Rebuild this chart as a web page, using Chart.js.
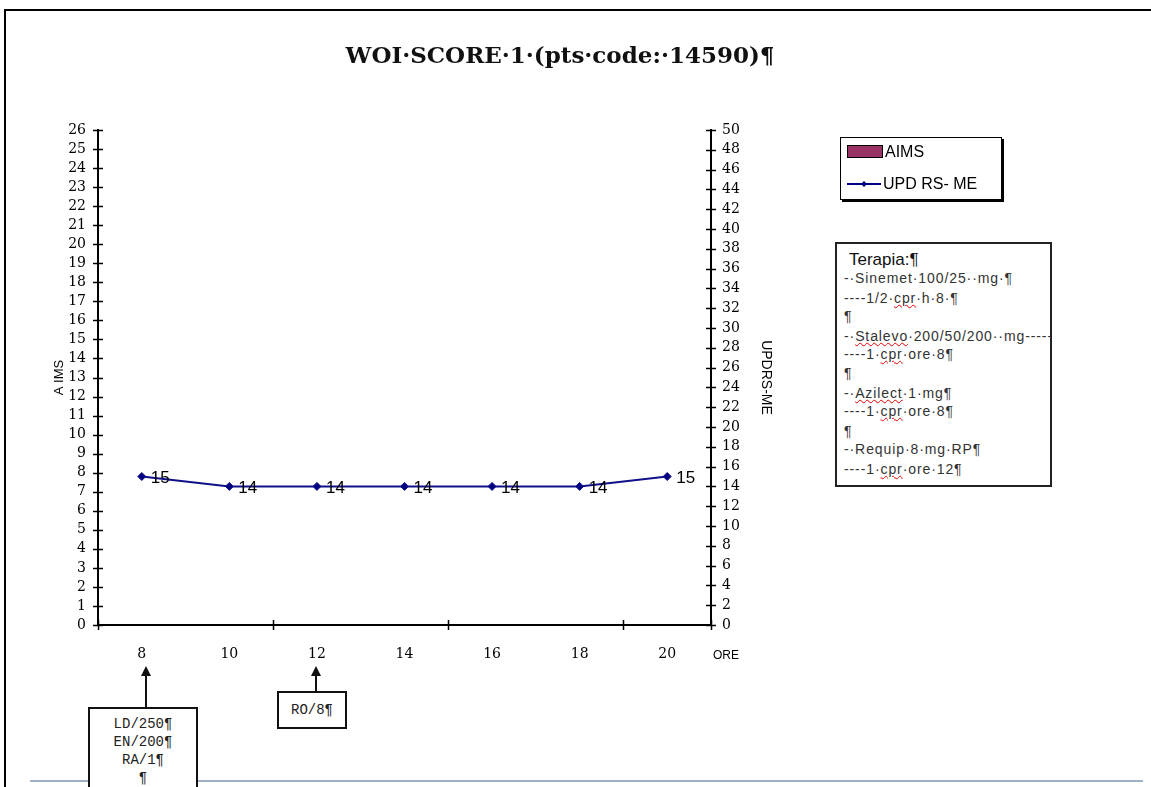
<!DOCTYPE html>
<html>
<head>
<meta charset="utf-8">
<title>WOI SCORE 1</title>
<script src="https://cdn.jsdelivr.net/npm/chart.js@4.4.1/dist/chart.umd.min.js"></script>
<style>
  body { margin: 0; background: #fff; }
  #wrap { position: relative; width: 1151px; height: 787px; overflow: hidden; }
  #wrap canvas { position: absolute; left: 0; top: 0; }
  .abs { position: absolute; }
  #title { left: 0; width: 1120px; top: 41px; text-align: center; font: bold 23px "DejaVu Serif", serif; color: #111; }
  .frame { position: absolute; background: #000; }
  #legend { left: 840px; top: 137px; width: 160px; height: 61px; border: 1px solid #000; box-shadow: 2px 2px 0 #000; background: #fff;
            font: 16px "Liberation Sans", Arial, sans-serif; color: #000; }
  #legend .row { position: absolute; left: 6px; height: 20px; line-height: 20px; }
  #legend .sw { display: inline-block; width: 34px; height: 11px; border: 1px solid #000; vertical-align: -1px; margin-right: 2px; }
  #terapia { left: 835px; top: 242px; width: 213px; height: 241px; border: 2px solid #222; background: #fff; overflow: hidden;
             font: 14px "Liberation Sans", Arial, sans-serif; color: #333; letter-spacing: 0.9px; }
  #terapia div { position: absolute; left: 7px; white-space: nowrap; line-height: 19px; }
  #terapia .h { font-size: 17px; color: #111; left: 12px; letter-spacing: 0; }
  .sq { text-decoration: underline wavy #e00; text-decoration-thickness: 1px; }
  .box { position: absolute; border: 2px solid #111; background: #fff; font: 14px "Liberation Mono", monospace; color: #222; text-align: center; }
  .arrow { position: absolute; width: 2px; background: #111; }
  .head { position: absolute; width: 0; height: 0; border-left: 5px solid transparent; border-right: 5px solid transparent; border-bottom: 10px solid #111; }
  #ore { left: 713px; top: 648px; font: 12px "Liberation Sans", Arial, sans-serif; color: #000; }
</style>
</head>
<body>
<div id="wrap">
  <canvas id="myChart" width="1151" height="787"></canvas>
  <div class="frame" style="left:4px;top:9px;width:2px;height:778px;"></div>
  <div class="frame" style="left:4px;top:9px;width:1147px;height:2px;"></div>
  <div class="frame" style="left:30px;top:780px;width:1113px;height:2px;background:#9fb0c8;"></div>

  <div id="title" class="abs">WOI·SCORE·1·(pts·code:·14590)¶</div>

  <div id="legend" class="abs">
    <div class="row" style="top:4px;"><span class="sw" style="background:#993366;"></span><span id="lg1"></span></div>
    <div class="row" style="top:36px;">
      <svg width="36" height="12" style="vertical-align:-1px;"><line x1="0" y1="6" x2="34" y2="6" stroke="#000080" stroke-width="2"/><polygon points="17,3 20,6 17,9 14,6" fill="#000080"/></svg><span id="lg2"></span>
    </div>
  </div>

  <div id="terapia" class="abs">
    <div class="h" style="top:6px;">Terapia:¶</div>
    <div style="top:25px;">-·Sinemet·100/25··mg·¶</div>
    <div style="top:45px;">----1/2·<span class="sq">cpr</span>·h·8·¶</div>
    <div style="top:63px;">¶</div>
    <div style="top:83px;">-·<span class="sq">Stalevo</span>·200/50/200··mg-----</div>
    <div style="top:101px;">----1·<span class="sq">cpr</span>·ore·8¶</div>
    <div style="top:120px;">¶</div>
    <div style="top:140px;">-·<span class="sq">Azilect</span>·1·mg¶</div>
    <div style="top:158px;">----1·<span class="sq">cpr</span>·ore·8¶</div>
    <div style="top:178px;">¶</div>
    <div style="top:196px;">-·Requip·8·mg·RP¶</div>
    <div style="top:216px;">----1·<span class="sq">cpr</span>·ore·12¶</div>
  </div>

  <div id="ore" class="abs">ORE</div>

  <!-- annotation at 8 -->
  <div class="head" style="left:141px;top:666px;"></div>
  <div class="arrow" style="left:145px;top:674px;height:34px;"></div>
  <div class="box" style="left:88px;top:707px;width:106px;height:100px;line-height:18px;padding-top:6px;">LD/250¶<br>EN/200¶<br>RA/1¶<br>¶</div>
  <!-- annotation at 12 -->
  <div class="head" style="left:311px;top:666px;"></div>
  <div class="arrow" style="left:315px;top:674px;height:18px;"></div>
  <div class="box" style="left:277px;top:691px;width:66px;height:34px;line-height:34px;">RO/8¶</div>
</div>

<script>
// chart data
const hours = ['8', '10', '12', '14', '16', '18', '20'];
const aimsName = 'AIMS';
const updrsName = 'UPD RS- ME';
const aimsValues = [null, null, null, null, null, null, null];
const updrsValues = [15, 14, 14, 14, 14, 14, 15];
const aimsMax = 26;
const updrsMax = 50;

document.getElementById('lg1').textContent = aimsName;
document.getElementById('lg2').textContent = updrsName;

// ticks crossing the axis lines, like the old excel charts
const crossTicks = {
	id: 'crossTicks',
	afterDraw(chart) {
		const ctx = chart.ctx;
		const area = chart.chartArea;
		const y = chart.scales.y, y1 = chart.scales.y1, x = chart.scales.x;
		ctx.save();
		ctx.strokeStyle = '#000';
		ctx.lineWidth = 1.5;
		ctx.beginPath();
		for (let v = 0; v <= aimsMax; v++) {
			const p = Math.round(y.getPixelForValue(v)) + 0.5;
			ctx.moveTo(area.left - 5, p); ctx.lineTo(area.left + 5, p);
		}
		for (let v = 0; v <= updrsMax; v += 2) {
			const p = Math.round(y1.getPixelForValue(v)) + 0.5;
			ctx.moveTo(area.right - 5, p); ctx.lineTo(area.right + 5, p);
		}
		for (let i = -0.5; i <= hours.length - 0.5; i += 2) {
			const p = Math.round(x.getPixelForValue(i)) + 0.5;
			ctx.moveTo(p, area.bottom - 5); ctx.lineTo(p, area.bottom + 5);
		}
		ctx.moveTo(area.right + 0.5, area.bottom - 5); ctx.lineTo(area.right + 0.5, area.bottom + 5);
		ctx.stroke();

		// value labels next to the points
		const meta = chart.getDatasetMeta(1);
		ctx.fillStyle = '#000';
		ctx.font = '17px "Liberation Sans", Arial, sans-serif';
		ctx.textBaseline = 'middle';
		meta.data.forEach(function(pt, i) {
			ctx.fillText(String(updrsValues[i]), pt.x + 9, pt.y + 2);
		});
		ctx.restore();
	}
};

var tickFont = { family: '"DejaVu Serif", serif', size: 14 };

var ctx = document.getElementById("myChart").getContext("2d");
var myChart = new Chart(ctx, {
	type: 'bar',
	data: {
		labels: hours,
		datasets: [{
			label: aimsName,
			data: aimsValues,
			backgroundColor: '#993366',
			borderColor: '#000',
			borderWidth: 1,
			yAxisID: 'y'
		}, {
			type: 'line',
			label: updrsName,
			data: updrsValues,
			borderColor: '#10108a',
			backgroundColor: '#000080',
			borderWidth: 2,
			pointStyle: 'rectRot',
			pointRadius: 4,
			pointBorderWidth: 1,
			fill: false,
			tension: 0,
			yAxisID: 'y1'
		}]
	},
	options: {
		responsive: false,
		animation: false,
		layout: { padding: { left: 0, right: 1151 - 711 - 70, top: 130, bottom: 0 } },
		plugins: {
			legend: { display: false },
			title: { display: false },
			tooltip: { enabled: false }
		},
		scales: {
			x: {
				grid: { display: false },
				border: { color: '#000', width: 2 },
				ticks: { color: '#000', font: tickFont, padding: 13, maxRotation: 0 },
				afterFit: function(s) { s.height = 787 - 625; }
			},
			y: {
				position: 'left',
				min: 0, max: aimsMax,
				grid: { display: false },
				border: { color: '#000', width: 2 },
				ticks: { stepSize: 1, autoSkip: false, color: '#000', font: tickFont, padding: 4 },
				title: { display: true, text: 'A IMS', color: '#000', font: { family: '"Liberation Sans", Arial, sans-serif', size: 13 }, padding: { top: 52 } },
				afterFit: function(s) { s.width = 98; }
			},
			y1: {
				position: 'right',
				min: 0, max: updrsMax,
				grid: { display: false },
				border: { color: '#000', width: 2 },
				ticks: { stepSize: 2, autoSkip: false, color: '#000', font: tickFont, padding: 3 },
				title: { display: true, text: 'UPDRS-ME', color: '#000', font: { family: '"Liberation Sans", Arial, sans-serif', size: 14 }, padding: { top: 7 } },
				afterFit: function(s) { s.width = 70; }
			}
		}
	},
	plugins: [crossTicks]
});
</script>
</body>
</html>
